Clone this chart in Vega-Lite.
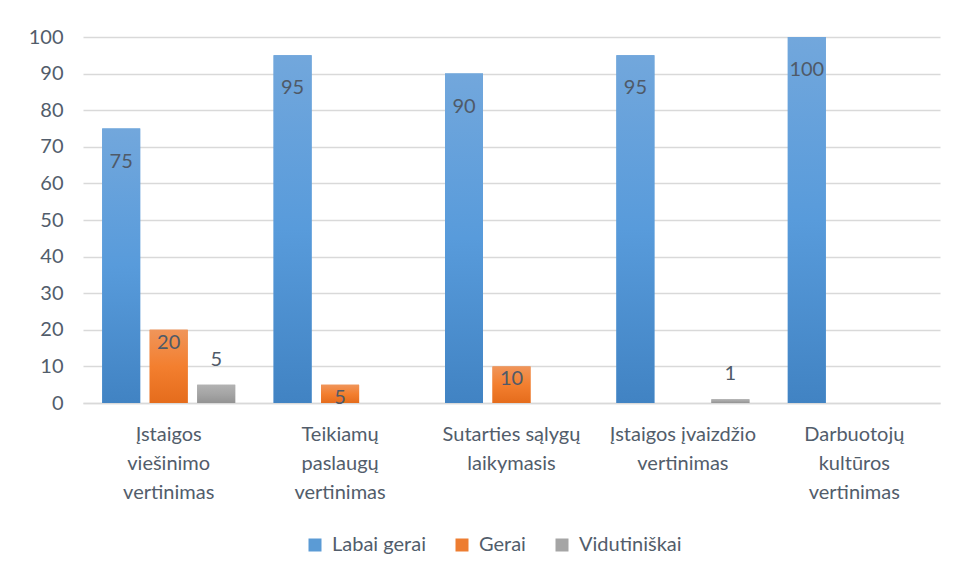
{
  "$schema": "https://vega.github.io/schema/vega-lite/v6.json",
  "width": 857,
  "height": 366,
  "autosize": {"type": "none"},
  "padding": {"left": 83, "top": 37, "right": 16, "bottom": 176},
  "background": "white",
  "config": {"view": {"stroke": null}, "font": "Lato"},
  "data": {
    "values": [
      {"kategorija": "Įstaigos viešinimo vertinimas", "serija": "Labai gerai", "procentai": 75},
      {"kategorija": "Įstaigos viešinimo vertinimas", "serija": "Gerai", "procentai": 20},
      {"kategorija": "Įstaigos viešinimo vertinimas", "serija": "Vidutiniškai", "procentai": 5},
      {"kategorija": "Teikiamų paslaugų vertinimas", "serija": "Labai gerai", "procentai": 95},
      {"kategorija": "Teikiamų paslaugų vertinimas", "serija": "Gerai", "procentai": 5},
      {"kategorija": "Sutarties sąlygų laikymasis", "serija": "Labai gerai", "procentai": 90},
      {"kategorija": "Sutarties sąlygų laikymasis", "serija": "Gerai", "procentai": 10},
      {"kategorija": "Įstaigos įvaizdžio vertinimas", "serija": "Labai gerai", "procentai": 95},
      {"kategorija": "Įstaigos įvaizdžio vertinimas", "serija": "Vidutiniškai", "procentai": 1},
      {"kategorija": "Darbuotojų kultūros vertinimas", "serija": "Labai gerai", "procentai": 100}
    ]
  },
  "encoding": {
    "x": {
      "field": "kategorija",
      "type": "nominal",
      "sort": ["Įstaigos viešinimo vertinimas", "Teikiamų paslaugų vertinimas", "Sutarties sąlygų laikymasis", "Įstaigos įvaizdžio vertinimas", "Darbuotojų kultūros vertinimas"],
      "scale": {"paddingInner": 0.224, "paddingOuter": 0.112},
      "axis": {
        "title": null,
        "labelAngle": 0,
        "labelFontSize": 20,
        "labelColor": "#525d6b",
        "labelLineHeight": 29,
        "labelPadding": 21,
        "labelBaseline": "top",
        "ticks": false,
        "domainColor": "#D9D9D9",
        "domainWidth": 1.5,
        "grid": false,
        "labelExpr": "datum.value == 'Įstaigos viešinimo vertinimas' ? ['Įstaigos','viešinimo','vertinimas'] : datum.value == 'Teikiamų paslaugų vertinimas' ? ['Teikiamų','paslaugų','vertinimas'] : datum.value == 'Sutarties sąlygų laikymasis' ? ['Sutarties sąlygų','laikymasis'] : datum.value == 'Įstaigos įvaizdžio vertinimas' ? ['Įstaigos įvaizdžio','vertinimas'] : ['Darbuotojų','kultūros','vertinimas']"
      }
    },
    "xOffset": {
      "field": "serija",
      "type": "nominal",
      "sort": ["Labai gerai", "Gerai", "Vidutiniškai"],
      "scale": {"domain": ["Labai gerai", "Gerai", "Vidutiniškai"], "paddingInner": 0.2, "paddingOuter": 0}
    },
    "y": {
      "field": "procentai",
      "type": "quantitative",
      "scale": {"domain": [0, 100]},
      "axis": {
        "title": null,
        "values": [0, 10, 20, 30, 40, 50, 60, 70, 80, 90, 100],
        "domain": false,
        "ticks": false,
        "gridColor": "#D9D9D9",
        "gridWidth": 1.5,
        "labelFontSize": 20,
        "labelColor": "#525d6b",
        "labelPadding": 20
      }
    }
  },
  "layer": [
    {
      "mark": {"type": "bar"},
      "encoding": {
        "color": {
          "field": "serija",
          "type": "nominal",
          "sort": ["Labai gerai", "Gerai", "Vidutiniškai"],
          "scale": {
            "domain": ["Labai gerai", "Gerai", "Vidutiniškai"],
            "range": ["#5B9BD5", "#ED7D31", "#A5A5A5"]
          },
          "legend": {
            "title": null,
            "orient": "none",
            "legendX": 222,
            "legendY": 498,
            "direction": "horizontal",
            "symbolType": "square",
            "symbolSize": 169,
            "symbolStrokeWidth": 0,
            "labelFontSize": 20,
            "labelColor": "#525d6b",
            "columnPadding": 26,
            "labelOffset": 7
          }
        }
      }
    },
    {
      "transform": [{"filter": "datum.serija == 'Labai gerai'"}],
      "mark": {"type": "bar", "color": {"gradient": "linear", "x1": 0, "y1": 0, "x2": 0, "y2": 1, "stops": [{"offset": 0, "color": "#72A7DC"}, {"offset": 0.5, "color": "#589BDB"}, {"offset": 1, "color": "#4183C3"}]}}
    },
    {
      "transform": [{"filter": "datum.serija == 'Gerai'"}],
      "mark": {"type": "bar", "color": {"gradient": "linear", "x1": 0, "y1": 0, "x2": 0, "y2": 1, "stops": [{"offset": 0, "color": "#F0955A"}, {"offset": 0.5, "color": "#F37F2F"}, {"offset": 1, "color": "#E56C1C"}]}}
    },
    {
      "transform": [{"filter": "datum.serija == 'Vidutiniškai'"}],
      "mark": {"type": "bar", "color": {"gradient": "linear", "x1": 0, "y1": 0, "x2": 0, "y2": 1, "stops": [{"offset": 0, "color": "#B2B2B2"}, {"offset": 0.5, "color": "#A5A5A5"}, {"offset": 1, "color": "#939393"}]}}
    },
    {
      "transform": [{"filter": "datum.serija == 'Labai gerai'"}],
      "mark": {"type": "text", "dy": 33, "fontSize": 20, "color": "#4f5a68", "baseline": "middle"},
      "encoding": {"text": {"field": "procentai", "type": "quantitative"}}
    },
    {
      "transform": [{"filter": "datum.serija == 'Gerai'"}],
      "mark": {"type": "text", "dy": 13, "fontSize": 20, "color": "#4f5a68", "baseline": "middle"},
      "encoding": {"text": {"field": "procentai", "type": "quantitative"}}
    },
    {
      "transform": [{"filter": "datum.serija == 'Vidutiniškai'"}],
      "mark": {"type": "text", "dy": -25, "fontSize": 20, "color": "#4f5a68", "baseline": "middle"},
      "encoding": {"text": {"field": "procentai", "type": "quantitative"}}
    }
  ]
}
